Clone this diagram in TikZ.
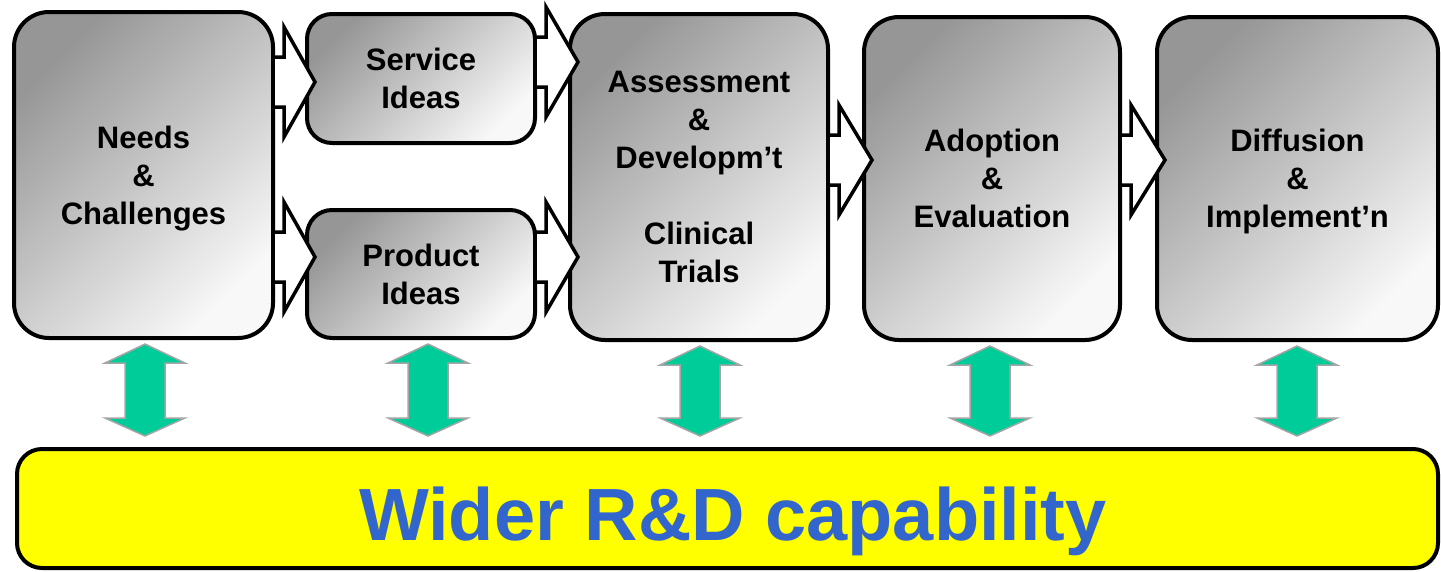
\documentclass[tikz,border=0pt]{standalone}
\usepackage{fontspec}
\setmainfont{Liberation Sans}
\usetikzlibrary{calc}
\definecolor{gdark}{RGB}{150,150,150}
\definecolor{glight}{RGB}{248,248,248}
\definecolor{arrowgreen}{RGB}{0,204,153}
\definecolor{arrowedge}{RGB}{165,165,165}
\definecolor{txtblue}{RGB}{51,102,204}
\definecolor{boxyellow}{RGB}{255,255,0}
\tikzset{
  stagebox/.style={draw=black, line width=4pt, rounded corners=35pt,
    top color=gdark, bottom color=glight, shading angle=45,
    align=center, inner sep=0pt, text depth=0pt,
    font=\bfseries\fontsize{31}{38}\selectfont},
  smallbox/.style={stagebox, rounded corners=25pt},
  widerbox/.style={draw=black, line width=4pt, rounded corners=25pt, fill=boxyellow, inner sep=0pt},
  blockarrow/.style={draw=black, fill=white, line width=3.5pt, line join=miter},
  greenarrow/.style={draw=arrowedge, fill=arrowgreen, line width=1.5pt, line join=miter}
}
\newcommand\barrow[3]{%
  \coordinate (a1) at (#1.east |- 0,#3);
  \coordinate (a2) at (#2.west |- 0,#3);
  \draw[blockarrow] ($(a1)+(-2,25)$) -- ($(a1)+(9,25)$) -- ($(a1)+(9,55)$) -- ($(a2)+(10,0)$)
    -- ($(a1)+(9,-55)$) -- ($(a1)+(9,-25)$) -- ($(a1)+(-2,-25)$) -- cycle;
}
\newcommand\garrow[2]{%
  \coordinate (gt) at (#1.south -| #2,0);
  \coordinate (gb) at (wider.north -| #2,0);
  \draw[greenarrow] ($(gt)+(0,-4)$) -- ($(gt)+(40,-23)$) -- ($(gt)+(20,-23)$) -- ($(gb)+(20,29)$)
    -- ($(gb)+(40,29)$) -- ($(gb)+(0,11)$) -- ($(gb)+(-40,29)$) -- ($(gb)+(-20,29)$)
    -- ($(gt)+(-20,-23)$) -- ($(gt)+(-40,-23)$) -- cycle;
}
\begin{document}
\begin{tikzpicture}[x=1pt,y=1pt]
\useasboundingbox (0,0) rectangle (1441,-571);

\node[stagebox, minimum width=259pt, minimum height=326pt] (needs) at (143.5,-175) {Needs\\\&\\Challenges};
\node[smallbox, minimum width=228pt, minimum height=129pt] (service) at (421,-78.5) {Service\\Ideas};
\node[smallbox, minimum width=228pt, minimum height=128pt] (product) at (421,-274) {Product\\Ideas};
\node[stagebox, minimum width=258pt, minimum height=326pt] (assess) at (699,-177) {Assessment\\\&\\Developm’t\\\mbox{}\\Clinical\\Trials};
\node[stagebox, minimum width=256pt, minimum height=323pt] (adopt) at (992,-178.5) {Adoption\\\&\\Evaluation};
\node[stagebox, minimum width=281pt, minimum height=323pt] (diff) at (1297.5,-178.5) {Diffusion\\\&\\Implement’n};

\node[widerbox, minimum width=1421pt, minimum height=119pt] (wider) at (727.5,-508.5) {};
\node[anchor=base, text=txtblue, font=\bfseries\fontsize{74}{80}\selectfont, inner sep=0pt] (widertext) at (733,-540) {Wider R\&D capability};

\barrow{needs}{service}{-82}
\barrow{needs}{product}{-257}
\barrow{service}{assess}{-62}
\barrow{product}{assess}{-257}
\barrow{assess}{adopt}{-160}
\barrow{adopt}{diff}{-160}

\garrow{needs}{145}
\garrow{product}{428}
\garrow{assess}{700}
\garrow{adopt}{990}
\garrow{diff}{1297}
\end{tikzpicture}
\end{document}
